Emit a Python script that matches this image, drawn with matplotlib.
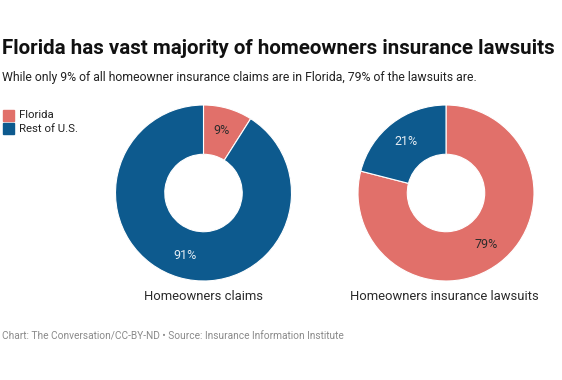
import matplotlib
matplotlib.use("Agg")
import matplotlib.pyplot as plt
import numpy as np

plt.rcParams['font.family'] = ['Roboto', 'DejaVu Sans']

series = ["Florida", "Rest of U.S."]
claims = [9, 91]
lawsuits = [79, 21]
chart_titles = ["Homeowners claims", "Homeowners insurance lawsuits"]
colors = ["#e1706a", "#0d5a8e"]
label_colors = ["#2b2b2b", "#e6edf3"]

W, H = 562, 380
fig = plt.figure(figsize=(W / 100, H / 100), dpi=100)

def px_axes(cx, cy, r):
    return fig.add_axes([(cx - r) / W, (H - cy - r) / H, 2 * r / W, 2 * r / H])

centers = [(203.5, 193), (446, 193)]
title_x = [203, 444]
R = 88
for (cx, cy), tx, vals, ttl in zip(centers, title_x, [claims, lawsuits], chart_titles):
    ax = px_axes(cx, cy, R)
    wedges, texts = ax.pie(vals, colors=colors, startangle=90, counterclock=False,
                           radius=1, wedgeprops=dict(width=0.56, edgecolor="white", linewidth=0.8))
    for w, v, lc in zip(wedges, vals, label_colors):
        ang = np.deg2rad((w.theta1 + w.theta2) / 2)
        rr = 0.74
        ax.text(rr * np.cos(ang), rr * np.sin(ang), f"{v}%", ha="center", va="center",
                fontsize=9, color=lc)
    ax.set_xlim(-1, 1)
    ax.set_ylim(-1, 1)
    ax.set_aspect("equal")
    ax.axis("off")
    fig.text(tx / W, 1 - 296 / H, ttl, ha="center", va="center", fontsize=9.4, color="#2a2a2a")

fig.text(2 / W, 1 - 48 / H, "Florida has vast majority of homeowners insurance lawsuits",
         ha="left", va="center", fontsize=14.75, fontweight="bold", color="#111111")
fig.text(2 / W, 1 - 77 / H, "While only 9% of all homeowner insurance claims are in Florida, 79% of the lawsuits are.",
         ha="left", va="center", fontsize=8.85, color="#222222")

# legend
for i, (s, c) in enumerate(zip(series, colors)):
    y = 115 + i * 14
    fig.patches.append(plt.Rectangle((3 / W, 1 - (y + 5.5) / H), 11 / W, 11 / H,
                                     transform=fig.transFigure, color=c, figure=fig))
    fig.text(19 / W, 1 - y / H, s, ha="left", va="center", fontsize=8.2, color="#222222")

fig.text(2 / W, 1 - 337 / H, "Chart: The Conversation/CC-BY-ND \u2022 Source: Insurance Information Institute",
         ha="left", va="center", fontsize=7.3, color="#8a8a8a")

fig.savefig("out.png", dpi=100, facecolor="white")
